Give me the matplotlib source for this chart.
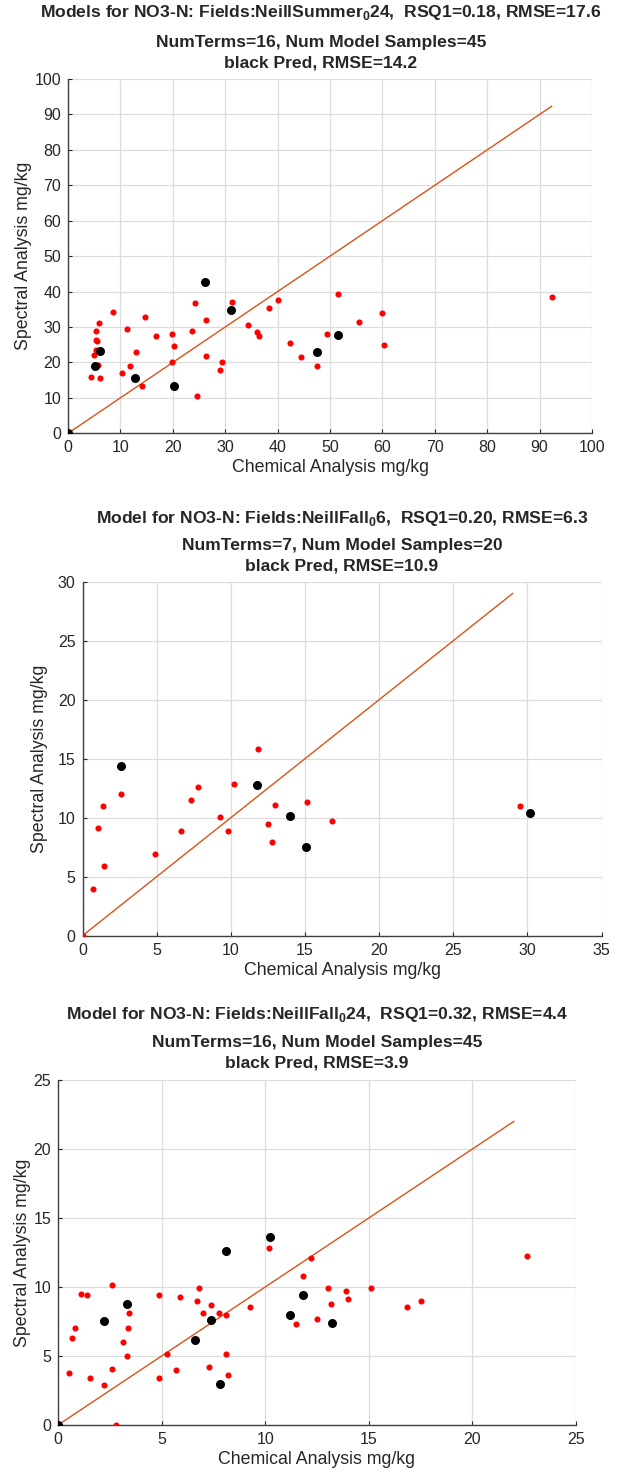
import matplotlib
matplotlib.use("Agg")
import matplotlib.pyplot as plt

plt.rcParams['font.family'] = ['Liberation Sans', 'DejaVu Sans']
plt.rcParams['mathtext.fontset'] = 'custom'
plt.rcParams['mathtext.rm'] = 'Liberation Sans'
plt.rcParams['mathtext.bf'] = 'Liberation Sans:bold'

# ---- panel 1: NeillSummer_0 24
p1_red_x = [0, 4.3, 6.2, 5.2, 5.8, 5.0, 5.3, 5.3, 5.6, 5.3, 6.0, 8.5, 11.3, 10.4, 11.8,
            12.9, 14.1, 14.6, 16.7, 19.9, 20.2, 19.8, 24.6, 23.7, 24.3, 26.3, 26.3, 29.4,
            29.1, 31.3, 34.4, 36.0, 36.5, 38.4, 40.1, 42.3, 44.5, 47.6, 49.4, 51.6, 55.5,
            60.0, 60.4, 92.3]
p1_red_y = [0, 15.9, 15.7, 19.1, 19.2, 22.0, 23.5, 26.2, 26.0, 28.8, 31.1, 34.2, 29.5, 17.0, 19.1,
            23.0, 13.3, 32.9, 27.5, 28.0, 24.5, 20.0, 10.5, 28.8, 36.8, 31.9, 21.8, 20.2,
            17.9, 37.2, 30.5, 28.5, 27.6, 35.5, 37.5, 25.4, 21.6, 18.9, 28.0, 39.2, 31.5,
            33.9, 24.9, 38.4]
p1_blk_x = [0, 5.1, 6.2, 12.7, 20.3, 26.2, 31.2, 47.5, 51.6]
p1_blk_y = [0, 19.1, 23.1, 15.6, 13.4, 42.8, 34.8, 23.0, 27.8]
p1_line_end = 92.3
p1_titles = [r'Models for NO3-N: Fields:NeillSummer$_\mathbf{0}$24,  RSQ1=0.18, RMSE=17.6',
             'NumTerms=16, Num Model Samples=45',
             'black Pred, RMSE=14.2']

# ---- panel 2: NeillFall_0 6
p2_red_x = [0, 0.69, 1.47, 1.07, 1.41, 2.62, 4.89, 6.64, 7.29, 7.79, 9.29, 9.79, 10.19,
            11.81, 12.5, 12.78, 12.96, 15.13, 16.82, 29.49]
p2_red_y = [0, 3.96, 5.88, 9.10, 10.96, 12.0, 6.90, 8.87, 11.47, 12.57, 10.03, 8.85, 12.88,
            15.85, 9.5, 7.9, 11.1, 11.36, 9.72, 11.02]
p2_blk_x = [2.62, 11.79, 14.01, 15.09, 30.15]
p2_blk_y = [14.38, 12.8, 10.17, 7.54, 10.42]
p2_line_end = 29.0
p2_titles = [r'Model for NO3-N: Fields:NeillFall$_\mathbf{0}$6,  RSQ1=0.20, RMSE=6.3',
             'NumTerms=7, Num Model Samples=20',
             'black Pred, RMSE=10.9']

# ---- panel 3: NeillFall_0 24
p3_red_x = [0, 0.51, 0.68, 0.82, 1.12, 1.40, 1.53, 2.21, 2.60, 2.60, 2.82, 3.12, 3.32, 3.40,
            3.42, 4.89, 4.89, 5.28, 5.70, 5.89, 6.72, 6.81, 7.0, 7.30, 7.40, 7.79, 8.09,
            8.12, 8.19, 9.28, 10.19, 11.51, 11.81, 12.19, 12.51, 13.02, 13.19, 13.89,
            14.02, 15.11, 16.82, 17.51, 22.63]
p3_red_y = [0, 3.74, 6.32, 7.0, 9.48, 9.44, 3.40, 2.87, 10.11, 4.05, 0.02, 5.98, 4.97, 7.02,
            8.08, 9.39, 3.43, 5.14, 3.96, 9.29, 8.95, 9.94, 8.11, 4.22, 8.66, 8.13, 7.96,
            5.14, 3.64, 8.54, 12.81, 7.34, 10.81, 12.09, 7.65, 9.92, 8.74, 9.72,
            9.15, 9.94, 8.52, 8.95, 12.23]
p3_blk_x = [0, 2.21, 3.32, 6.61, 7.39, 7.81, 8.11, 10.23, 11.19, 11.81, 13.21]
p3_blk_y = [0, 7.53, 8.76, 6.13, 7.58, 2.99, 12.6, 13.59, 7.94, 9.41, 7.38]
p3_line_end = 22.0
p3_titles = [r'Model for NO3-N: Fields:NeillFall$_\mathbf{0}$24,  RSQ1=0.32, RMSE=4.4',
             'NumTerms=16, Num Model Samples=45',
             'black Pred, RMSE=3.9']

W, H = 622, 1475
fig = plt.figure(figsize=(W / 100, H / 100), dpi=100)
TXT = '#262626'


def panel(box, red_x, red_y, blk_x, blk_y, line_end, xmax, ymax, step, titles, title_y,
          title_cx, ylabpad):
    left, right, top, bottom = box
    ax = fig.add_axes([left / W, 1 - bottom / H, (right - left) / W, (bottom - top) / H])
    ax.plot([0, line_end], [0, line_end], color='#D95319', lw=1.0, zorder=2)
    ax.plot(red_x, red_y, 'o', color='#FF0000', ms=4.4, mec='none', zorder=3)
    ax.plot(blk_x, blk_y, 'o', color='#000000', ms=6.5, mec='none', zorder=4)
    ax.set_xlim(0, xmax)
    ax.set_ylim(0, ymax)
    ax.set_xticks(range(0, xmax + 1, step))
    ax.set_yticks(range(0, ymax + 1, step))
    ax.grid(True, color='#DCDCDC', lw=0.9)
    ax.set_axisbelow(True)
    for s in ['top', 'right']:
        ax.spines[s].set_visible(False)
    for s in ['left', 'bottom']:
        ax.spines[s].set_color('#404040')
        ax.spines[s].set_linewidth(1.0)
    ax.tick_params(direction='in', length=3, labelsize=11.5, colors=TXT, pad=5)
    ax.set_xlabel('Chemical Analysis mg/kg', fontsize=12.8, color=TXT, labelpad=3)
    ax.set_ylabel('Spectral Analysis mg/kg', fontsize=12.8, color=TXT, labelpad=ylabpad)
    for t, yy in zip(titles, title_y):
        fig.text(title_cx / W, 1 - yy / H, t, ha='center', va='center', fontsize=12.6,
                 fontweight='bold', color=TXT)
    return ax


panel((68, 592, 79, 433.3), p1_red_x, p1_red_y, p1_blk_x, p1_blk_y, p1_line_end,
      100, 100, 10, p1_titles, (13, 43, 63), 321, 2)
panel((82.5, 601.6, 581.7, 935.7), p2_red_x, p2_red_y, p2_blk_x, p2_blk_y, p2_line_end,
      35, 30, 5, p2_titles, (518, 546, 566), 342, 7)
panel((58, 576, 1080, 1425), p3_red_x, p3_red_y, p3_blk_x, p3_blk_y, p3_line_end,
      25, 25, 5, p3_titles, (1014, 1043, 1063), 317, 2)

fig.savefig('out.png', dpi=100)
